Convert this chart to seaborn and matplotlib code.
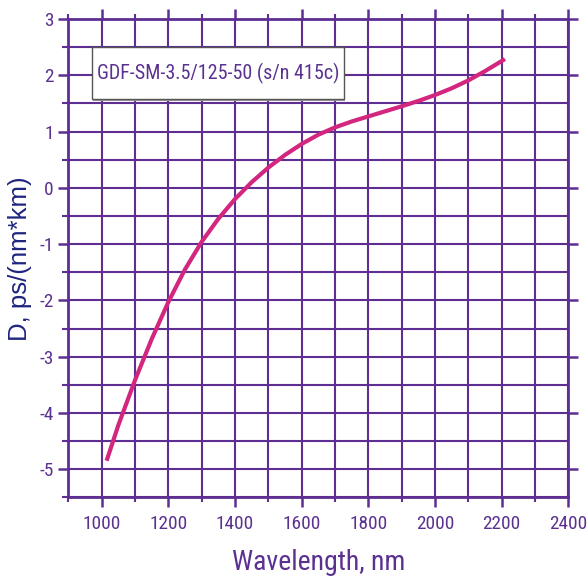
import numpy as np
import pandas as pd
import matplotlib
matplotlib.use("Agg")
import matplotlib.pyplot as plt
import matplotlib.font_manager as fm
from matplotlib.patches import Rectangle
from matplotlib.ticker import MultipleLocator
import seaborn as sns

# ---- data ----
wavelength_nm = [1015, 1050, 1100, 1150, 1200, 1250, 1300, 1350, 1400, 1450,
                 1500, 1550, 1600, 1650, 1700, 1750, 1800, 1850, 1900, 1950,
                 2000, 2050, 2100, 2150, 2210]
dispersion = [-4.85, -4.22, -3.42, -2.69, -2.03, -1.45, -0.96, -0.55, -0.20, 0.10,
              0.36, 0.585, 0.78, 0.945, 1.075, 1.18, 1.27, 1.36, 1.45, 1.545,
              1.65, 1.77, 1.91, 2.075, 2.29]
x_ticks = [1000, 1200, 1400, 1600, 1800, 2000, 2200, 2400]
y_ticks = [-5, -4, -3, -2, -1, 0, 1, 2, 3]
label_text = "GDF-SM-3.5/125-50 (s/n 415c)"
x_label = "Wavelength, nm"
y_label = "D, ps/(nm*km)"

df = pd.DataFrame({"wl": wavelength_nm, "D": dispersion})

sns.set_style("white")
names = {f.name for f in fm.fontManager.ttflist}
narrow = "Liberation Sans"
for cand in ["Liberation Sans Narrow", "Arial Narrow", "Roboto Condensed",
             "PT Sans Narrow", "Archivo Narrow", "Pragati Narrow"]:
    if cand in names:
        narrow = cand
        break
regular = "Arimo" if "Arimo" in names else "Liberation Sans"
plt.rcParams["font.family"] = [narrow, "DejaVu Sans"]
plt.rcParams["axes.unicode_minus"] = False

GRID = "#5f2e92"
TXT = "#5b3190"
CURVE = "#d2267f"
YLAB = "#1f2580"

fig = plt.figure(figsize=(5.87, 5.83), dpi=100)
ax = fig.add_axes([68.3 / 587, (583 - 497.3) / 583, 500 / 587, 478.2 / 583])

sns.lineplot(data=df, x="wl", y="D", ax=ax, color=CURVE, linewidth=3.0,
             solid_capstyle="butt", solid_joinstyle="round", zorder=5)

ax.set_xlim(900, 2400)
ax.set_ylim(-5.5, 3)
ax.set_xticks(x_ticks)
ax.set_yticks(y_ticks)
ax.xaxis.set_minor_locator(MultipleLocator(100))
ax.yaxis.set_minor_locator(MultipleLocator(0.5))

ax.grid(True, which="both", color=GRID, linewidth=1.5)
ax.set_axisbelow(True)
for s in ax.spines.values():
    s.set_color(GRID)
    s.set_linewidth(2.0)
    s.set_zorder(6)

# find tick label size so that "1000" is about 38 px wide
renderer = fig.canvas.get_renderer()
probe = fig.text(0, 0, "1000", fontsize=15)
w = probe.get_window_extent(renderer).width
tsize = 15 * 38.0 / w
probe.remove()

ax.tick_params(axis="x", which="major", direction="out", length=7, width=1.8,
               color=GRID, labelcolor=TXT, labelsize=tsize, top=True, bottom=True,
               pad=5.5)
ax.tick_params(axis="x", which="minor", direction="out", length=3.5, width=1.5,
               color=GRID, top=True, bottom=True)
ax.tick_params(axis="y", which="major", direction="out", length=7, width=1.8,
               color=GRID, labelcolor=TXT, labelsize=tsize, left=True, right=True,
               pad=3.5)
ax.tick_params(axis="y", which="minor", direction="out", length=4.3, width=1.5,
               color=GRID, left=True, right=False)

xl = ax.set_xlabel(x_label, fontsize=20, color=TXT, labelpad=12)
yl = ax.set_ylabel(y_label, fontsize=18, color=YLAB, labelpad=5,
                   family=[regular, "DejaVu Sans"])

# annotation box
x0, x1 = (91.7 - 68.3) / 500, (344 - 68.3) / 500
y0, y1 = (497.3 - 99) / 478.2, (497.3 - 47.3) / 478.2
ax.add_patch(Rectangle((x0 + 0.003, y0 - 0.004), x1 - x0, y1 - y0, transform=ax.transAxes,
                       facecolor="#9a9a9a", edgecolor="none", zorder=9))
ax.add_patch(Rectangle((x0, y0), x1 - x0, y1 - y0, transform=ax.transAxes,
                       facecolor="white", edgecolor="#555555", linewidth=1.0, zorder=10))
bt = ax.text((x0 + x1) / 2, (y0 + y1) / 2, label_text, transform=ax.transAxes,
             ha="center", va="center", fontsize=15, color=TXT, zorder=11)


def fit(t, target, vertical=False):
    ext = t.get_window_extent(renderer)
    cur = ext.height if vertical else ext.width
    t.set_fontsize(t.get_fontsize() * target / cur)


fit(bt, 243)
fit(xl, 173)
fit(yl, 165, vertical=True)

fig.savefig("out.png", dpi=100)
